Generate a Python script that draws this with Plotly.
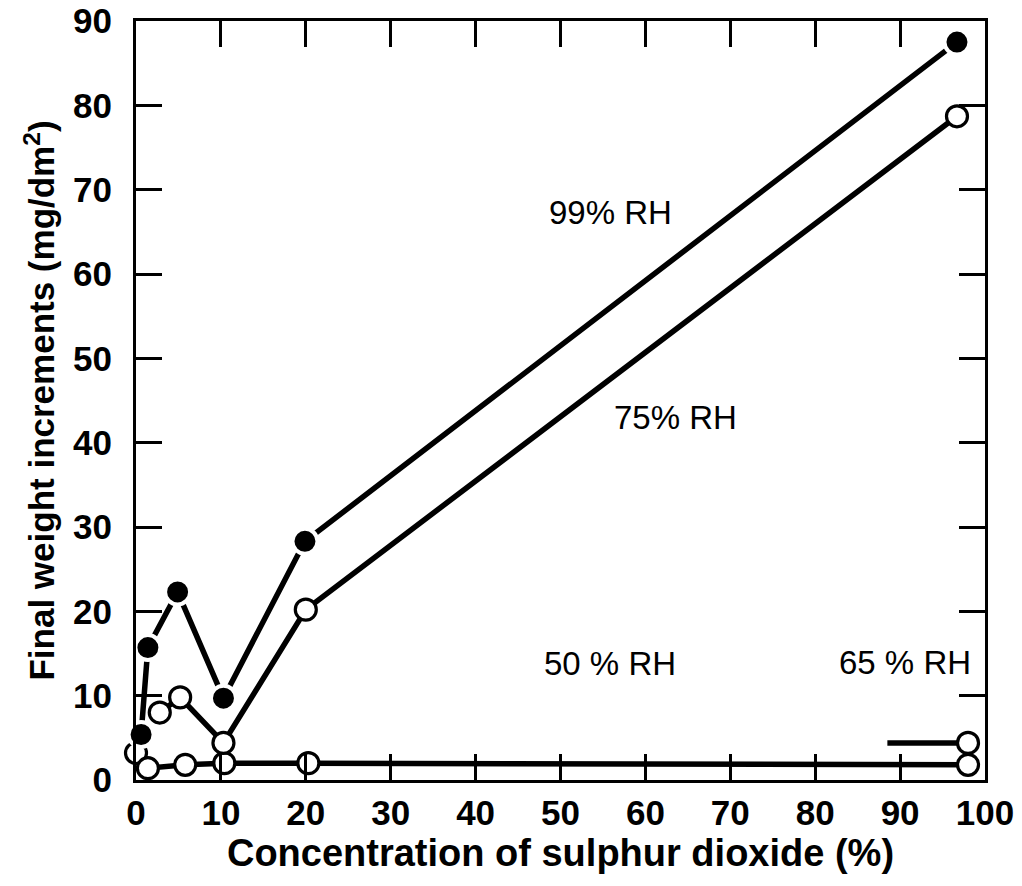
import plotly.graph_objects as go

# SO2 concentration (%) and final weight increments (mg/dm^2) per humidity level
x_99 = [0.6, 1.4, 4.9, 10.3, 19.9, 96.7]
y_99 = [5.4, 15.7, 22.3, 9.7, 28.3, 87.5]

x_75 = [2.8, 5.2, 10.3, 20.0, 96.7]
y_75 = [8.0, 9.8, 4.4, 20.2, 78.7]

x_50 = [0.0, 1.4, 5.8, 10.4, 20.3, 98.0]
y_50 = [3.2, 1.4, 1.8, 2.0, 2.0, 1.8]

x_65 = [88.5, 98.0]
y_65 = [4.4, 4.4]

x_ticks = [0, 10, 20, 30, 40, 50, 60, 70, 80, 90, 100]
y_ticks = [0, 10, 20, 30, 40, 50, 60, 70, 80, 90]

FONT = "Liberation Sans, Arial, sans-serif"
LW = 5.5
TOP, BOTTOM, LEFT, RIGHT = 21, 780, 136, 985

fig = go.Figure()

open_marker = dict(symbol="circle", size=21, color="white",
                   line=dict(color="black", width=3.2))

fig.add_trace(go.Scatter(x=x_50, y=y_50, mode="lines+markers",
                         line=dict(color="black", width=LW),
                         marker=open_marker, cliponaxis=False, name="50 % RH"))
# 65 % RH: short line ending in a single measured point
fig.add_trace(go.Scatter(x=x_65, y=y_65, mode="lines",
                         line=dict(color="black", width=LW),
                         cliponaxis=False, name="65 % RH"))
fig.add_trace(go.Scatter(x=x_65[-1:], y=y_65[-1:], mode="markers",
                         marker=open_marker, cliponaxis=False, showlegend=False))
fig.add_trace(go.Scatter(x=x_75, y=y_75, mode="lines+markers",
                         line=dict(color="black", width=LW),
                         marker=open_marker, cliponaxis=False, name="75% RH"))
fig.add_trace(go.Scatter(x=x_99, y=y_99, mode="lines+markers",
                         line=dict(color="black", width=LW),
                         marker=dict(symbol="circle", size=25, color="black",
                                     line=dict(color="white", width=4)),
                         cliponaxis=False, name="99% RH"))

labels = [
    ("99% RH", 610, 212),
    ("75% RH", 675, 418),
    ("50 % RH", 610, 663),
    ("65 % RH", 905, 662),
]
for text, px, py in labels:
    fig.add_annotation(text=text, xref="paper", yref="paper",
                       x=(px - LEFT) / (RIGHT - LEFT), y=(BOTTOM - py) / (BOTTOM - TOP),
                       showarrow=False, xanchor="center", yanchor="middle",
                       font=dict(family=FONT, size=33, color="black"))

axis_common = dict(
    showline=True, linecolor="black", linewidth=3, mirror="ticks",
    ticks="inside", ticklen=26, tickwidth=2.5, tickcolor="black",
    showgrid=False, zeroline=False, ticklabeloverflow="allow",
    automargin=False,
    tickfont=dict(family=FONT, size=35, color="black", weight="bold"),
)

fig.update_xaxes(range=[0, 100], tickvals=x_ticks, ticklabelstandoff=0,
                 title=dict(text="Concentration of sulphur dioxide (%)",
                            font=dict(family=FONT, size=38, color="black", weight="bold"),
                            standoff=0),
                 **axis_common)
fig.update_yaxes(range=[0, 90], tickvals=y_ticks, ticklabelstandoff=14,
                 title=dict(text="Final weight increments (mg/dm<sup>2</sup>)",
                            font=dict(family=FONT, size=35, color="black", weight="bold"),
                            standoff=8),
                 **axis_common)

fig.update_layout(
    width=1022, height=886,
    margin=dict(l=LEFT, r=1022 - RIGHT, t=TOP, b=886 - BOTTOM),
    paper_bgcolor="white", plot_bgcolor="white",
    showlegend=False,
)

fig.write_html("out.html")
